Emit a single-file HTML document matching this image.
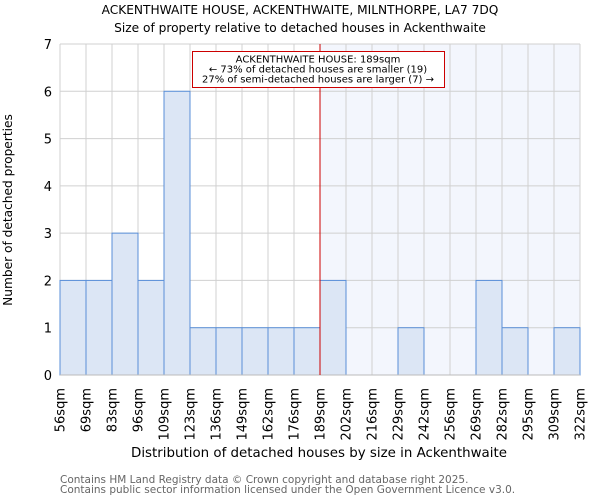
<!DOCTYPE html>
<html><head><meta charset="utf-8"><style>
body{margin:0;background:#fff;}
svg{display:block;font-family:"DejaVu Sans","Liberation Sans",sans-serif;}
</style></head><body>
<svg id="chart" width="600" height="500" viewBox="0 0 600 500">
<text x="300" y="14" text-anchor="middle" font-size="12.2" fill="#000">ACKENTHWAITE HOUSE, ACKENTHWAITE, MILNTHORPE, LA7 7DQ</text>
<text x="300" y="32" text-anchor="middle" font-size="12.2" fill="#000">Size of property relative to detached houses in Ackenthwaite</text>
<g id="plot"></g>
<text x="319" y="457" text-anchor="middle" font-size="13.4" fill="#000">Distribution of detached houses by size in Ackenthwaite</text>
<text transform="translate(12,210) rotate(-90)" text-anchor="middle" font-size="12.2" fill="#000">Number of detached properties</text>
<text x="60" y="483" font-size="10.5" fill="#666">Contains HM Land Registry data © Crown copyright and database right 2025.</text>
<text x="60" y="493" font-size="10.5" fill="#666">Contains public sector information licensed under the Open Government Licence v3.0.</text>
</svg>
<script>
const categories = ["56sqm","69sqm","83sqm","96sqm","109sqm","123sqm","136sqm","149sqm","162sqm","176sqm","189sqm","202sqm","216sqm","229sqm","242sqm","256sqm","269sqm","282sqm","295sqm","309sqm","322sqm"];
const counts = [2,2,3,2,6,1,1,1,1,1,2,0,0,1,0,0,2,1,0,1];
const yTicks = [0,1,2,3,4,5,6,7];
const markerIndex = 10;
const annotationLines = ["ACKENTHWAITE HOUSE: 189sqm","← 73% of detached houses are smaller (19)","27% of semi-detached houses are larger (7) →"];

const NS = "http://www.w3.org/2000/svg";
const g = document.getElementById("plot");
const X0 = 60, X1 = 580, Y0 = 375, Y1 = 44, YMAX = 7;
const bw = (X1 - X0) / counts.length;
const xs = i => X0 + i * bw;
const ys = v => Y0 - (v / YMAX) * (Y0 - Y1);
function mk(tag, attrs) { const e = document.createElementNS(NS, tag); for (const k in attrs) e.setAttribute(k, attrs[k]); g.appendChild(e); return e; }

let e = mk("rect", {x: xs(markerIndex), y: Y1, width: X1 - xs(markerIndex), height: Y0 - Y1, fill: "#f3f6fd"});


yTicks.forEach(t => {
  let l = mk("line", {x1: X0, x2: X1, y1: ys(t), y2: ys(t), stroke: "#d0d0d0", "stroke-width": 1});
  
  
  let tx = mk("text", {x: X0 - 8, y: ys(t) + 5, "text-anchor": "end", "font-size": 13, fill: "#000"});
  tx.textContent = t;
  
  
});
categories.forEach((c, i) => {
  let l = mk("line", {x1: xs(i), x2: xs(i), y1: Y1, y2: Y0, stroke: "#d0d0d0", "stroke-width": 1});
  
  
  let tx = mk("text", {transform: `translate(${xs(i) + 4.5},388) rotate(-90)`, "text-anchor": "end", "font-size": 13, fill: "#000"});
  tx.textContent = c;
  
  
});
counts.forEach((v, i) => {
  if (v <= 0) return;
  let r = mk("rect", {x: xs(i), y: ys(v), width: bw, height: Y0 - ys(v), fill: "#dce6f5", stroke: "#5a8fd8", "stroke-width": 1});
  
  
});
let ax = mk("line", {x1: X0, x2: X1, y1: Y0, y2: Y0, stroke: "#bbb", "stroke-width": 1});


let ml = mk("line", {x1: xs(markerIndex), x2: xs(markerIndex), y1: Y1, y2: Y0, stroke: "#cc0000", "stroke-width": 1});


let box = mk("rect", {x: 192.5, y: 51.5, width: 252, height: 36, fill: "#fff", stroke: "#cc0000", "stroke-width": 1});


annotationLines.forEach((s, k) => {
  let t = mk("text", {x: 318, y: 62.5 + k * 10, "text-anchor": "middle", "font-size": 10, fill: "#000"});
  t.textContent = s;
  
  
});
</script>
</body></html>
